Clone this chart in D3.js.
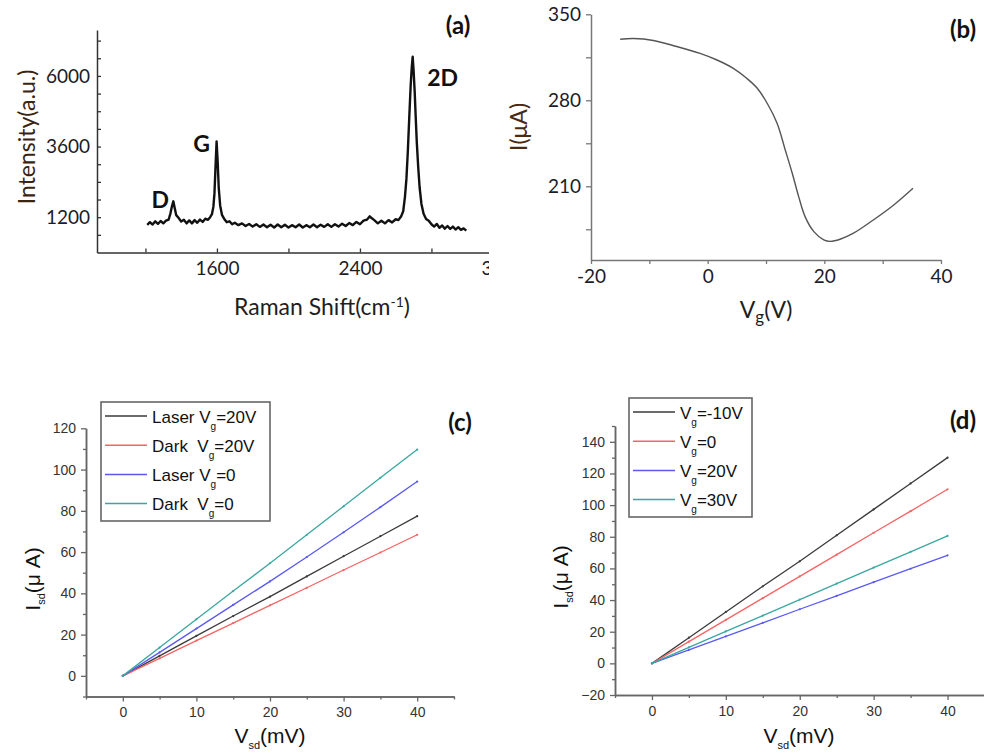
<!DOCTYPE html>
<html>
<head>
<meta charset="utf-8">
<script src="https://cdn.jsdelivr.net/npm/d3@7"></script>
<style>
  body { margin: 0; background: #fff; }
  svg { display: block; }
</style>
</head>
<body>
<div id="chart"></div>
<script>
// (a) Raman spectrum
let ramanShift = [1210,1225,1240,1255,1270,1285,1300,1315,1330,1340,1348,1356,1364,1372,1385,1400,1415,1430,1445,1460,1475,1490,1505,1520,1535,1550,1562,1572,1580,1586,1592,1598,1604,1610,1618,1628,1640,1655,1670,1685,1700,1720,1740,1760,1780,1800,1820,1840,1860,1880,1900,1920,1940,1960,1980,2000,2020,2040,2060,2080,2100,2120,2140,2160,2180,2200,2220,2240,2260,2280,2300,2320,2340,2360,2380,2400,2420,2440,2455,2465,2480,2500,2520,2540,2560,2580,2600,2615,2630,2642,2652,2660,2668,2676,2684,2690,2695,2700,2706,2712,2718,2726,2734,2744,2756,2770,2785,2800,2815,2830,2845,2860,2875,2890,2905,2920,2935,2950,2965,2980,2995];
let ramanIntensity = [940,1030,950,1060,970,1070,990,1080,1120,1330,1560,1740,1500,1270,1180,1050,1110,990,1090,990,1100,1010,1120,1040,1150,1110,1200,1300,1550,2000,2900,3770,3100,2200,1600,1280,1150,1030,1060,960,1010,930,990,900,970,880,960,870,950,860,940,850,950,860,940,850,930,860,950,850,930,860,950,860,940,870,960,870,960,880,980,900,1000,930,1040,960,1080,1120,1230,1170,1100,990,1080,990,1100,1020,1130,1100,1220,1400,1900,2500,3450,4600,5700,6300,6650,6200,5500,4600,3750,2900,2200,1650,1320,1140,1080,960,880,970,840,920,810,900,800,880,780,860,770,820,740];
let ramanXTicks = [1200,1600,2000,2400,2800,3200];
let ramanXLabels = [1600,2400,3200];
let ramanYTicks = [600,1200,1800,2400,3000,3600,4200,4800,5400,6000,6600,7200];
let ramanYLabels = [1200,3600,6000];
let peakNames = ["D","G","2D"];
let peakPos = [1356,1598,2695];

// (b) transfer curve
let gateVoltage = [-15,-12.7,-9.3,-5.3,-1.3,1.6,4.4,6.7,8.5,10.2,11.9,13.3,14.5,15.6,16.7,18.2,19.9,21.0,22.7,25.0,28.4,31.9,35.2];
let gateCurrent = [329.7,330.3,328.7,323.8,318.2,312.8,306,297.9,289.8,277.6,261.3,239.6,220.6,201.6,185.3,173.1,166.4,165.2,166.9,171.8,182.6,194.8,208.4];
let gateXTicks = [-20,-10,0,10,20,30,40];
let gateXLabels = [-20,0,20,40];
let gateYTicks = [175,210,245,280,315,350];
let gateYLabels = [210,280,350];

// (c) and (d) output curves
let vsd = [0,5,10,15,20,25,30,35,40];
let cLaser20 = [0,9.7,19.4,29.0,38.4,48.2,58.0,67.7,77.4];
let cDark20 = [0,8.5,17.1,25.6,34.2,42.7,51.3,59.8,68.4];
let cLaser0 = [0,11.4,22.9,34.4,45.8,57.6,69.6,81.8,94.2];
let cDark0 = [0,13.7,27.4,41.1,54.6,68.4,82.2,96.0,109.7];
let cLegend = [["Laser V","g","=20V"],["Dark  V","g","=20V"],["Laser V","g","=0"],["Dark  V","g","=0"]];
let dVgm10 = [0,16.2,32.5,48.7,64.5,80.9,97.3,113.7,130];
let dVg0 = [0,13.7,27.5,41.2,55.0,68.7,82.5,96.2,110];
let dVg20 = [0,8.5,17.1,25.6,34.2,42.7,51.3,59.8,68.3];
let dVg30 = [0,10.1,20.2,30.2,40.3,50.4,60.5,70.5,80.6];
let dLegend = [["V","g","=-10V"],["V","g","=0"],["V","g","=20V"],["V","g","=30V"]];
let lineColors = ["#3a3a3a","#f46464","#5a5af2","#3aa79f"];
let vsdMajor = [0,10,20,30,40];
let vsdMinor = [-5,5,15,25,35,45];

let calibri = "Lato, 'Open Sans', sans-serif";
let arial = "'Liberation Sans', Arial, sans-serif";

let svg = d3.select("#chart").append("svg")
    .attr("width", 984)
    .attr("height", 756);

svg.append("rect").attr("width", 984).attr("height", 756).attr("fill", "#fff");

function styleAxis(g, color, labelColor, size, font) {
    g.attr("font-family", font);
    g.select(".domain").attr("stroke", color).attr("stroke-width", 1.5);
    g.selectAll(".tick line").attr("stroke", color).attr("stroke-width", 1.3);
    g.selectAll(".tick text").attr("fill", labelColor).style("font-size", size).style("font-family", font);
}

// ---------- panel (a) ----------
let pa = svg.append("g").attr("font-family", calibri);
let xA = d3.scaleLinear().domain([929, 3122]).range([97, 489]);
let yA = d3.scaleLinear().domain([0, 7560]).range([252.5, 30]);

svg.append("clipPath").attr("id", "clipA")
    .append("rect").attr("x", 0).attr("y", 0).attr("width", 489).attr("height", 340);

let xAxisA = pa.append("g")
    .attr("clip-path", "url(#clipA)")
    .append("g")
    .attr("transform", "translate(0,252.5)")
    .call(d3.axisBottom(xA).tickValues(ramanXTicks).tickSizeInner(-4).tickSizeOuter(0).tickPadding(9)
        .tickFormat(d => ramanXLabels.includes(d) ? d : ""));
styleAxis(xAxisA, "#333", "#1c1c28", "19px", calibri);

let yAxisA = pa.append("g")
    .attr("transform", "translate(97,0)")
    .call(d3.axisLeft(yA).tickValues(ramanYTicks).tickSizeInner(-4).tickSizeOuter(0).tickPadding(7)
        .tickFormat(d => ramanYLabels.includes(d) ? d : ""));
styleAxis(yAxisA, "#333", "#1c1c28", "19px", calibri);

let lineA = d3.line().x((d, i) => xA(ramanShift[i])).y(d => yA(d));
pa.append("path")
    .datum(ramanIntensity)
    .attr("d", lineA)
    .attr("fill", "none")
    .attr("stroke", "#111")
    .attr("stroke-width", 2.4)
    .attr("stroke-linejoin", "round");

let peakDx = [-13, -15, 30];
let peakDy = [7, 10, 29];
pa.selectAll(".peak")
    .data(peakNames)
    .enter()
    .append("text")
    .attr("class", "peak")
    .attr("x", (d, i) => xA(peakPos[i]) + peakDx[i])
    .attr("y", (d, i) => yA(ramanIntensity[ramanShift.indexOf(peakPos[i])]) + peakDy[i])
    .attr("text-anchor", "middle")
    .style("font-size", "23px")
    .style("font-weight", "bold")
    .attr("fill", "#111")
    .text(d => d);

pa.append("text")
    .attr("transform", "translate(35,137) rotate(-90)")
    .attr("text-anchor", "middle")
    .style("font-size", "23px")
    .attr("fill", "#3b2410")
    .text("Intensity(a.u.)");

let ramanTitle = pa.append("text")
    .attr("x", 322)
    .attr("y", 315)
    .attr("text-anchor", "middle")
    .style("font-size", "23px")
    .attr("fill", "#1e1e1e");
ramanTitle.append("tspan").text("Raman Shift(cm");
ramanTitle.append("tspan").attr("dy", -8).style("font-size", "14px").text("-1");
ramanTitle.append("tspan").attr("dy", 8).text(")");

pa.append("text")
    .attr("x", 458).attr("y", 34)
    .attr("text-anchor", "middle")
    .style("font-size", "24px")
    .style("font-weight", "bold")
    .attr("fill", "#111")
    .text("(a)");

// ---------- panel (b) ----------
let pb = svg.append("g").attr("font-family", calibri);
let xB = d3.scaleLinear().domain([-20, 40]).range([591, 941]);
let yB = d3.scaleLinear().domain([150, 350]).range([260, 14.3]);

let xAxisB = pb.append("g")
    .attr("transform", "translate(0,260)")
    .call(d3.axisBottom(xB).tickValues(gateXTicks).tickSizeInner(4).tickSizeOuter(0).tickPadding(6)
        .tickFormat(d => gateXLabels.includes(d) ? d : ""));
styleAxis(xAxisB, "#777", "#1c1c28", "19px", calibri);

let yAxisB = pb.append("g")
    .attr("transform", "translate(591,0)")
    .call(d3.axisLeft(yB).tickValues(gateYTicks).tickSizeInner(5).tickSizeOuter(0).tickPadding(5)
        .tickFormat(d => gateYLabels.includes(d) ? d : ""));
styleAxis(yAxisB, "#777", "#1c1c28", "19px", calibri);

let lineB = d3.line().x((d, i) => xB(gateVoltage[i])).y(d => yB(d)).curve(d3.curveCatmullRom);
pb.append("path")
    .datum(gateCurrent)
    .attr("d", lineB)
    .attr("fill", "none")
    .attr("stroke", "#555")
    .attr("stroke-width", 1.4);

pb.append("text")
    .attr("transform", "translate(527,127) rotate(-90)")
    .attr("text-anchor", "middle")
    .style("font-size", "23px")
    .attr("fill", "#4a2a10")
    .text("I(μA)");

let vgTitle = pb.append("text")
    .attr("x", 766).attr("y", 318)
    .attr("text-anchor", "middle")
    .style("font-size", "23px")
    .attr("fill", "#1e1e1e");
vgTitle.append("tspan").text("V");
vgTitle.append("tspan").attr("dy", 5).style("font-size", "17px").text("g");
vgTitle.append("tspan").attr("dy", -5).text("(V)");

pb.append("text")
    .attr("x", 963).attr("y", 38)
    .attr("text-anchor", "middle")
    .style("font-size", "24px")
    .style("font-weight", "bold")
    .attr("fill", "#111")
    .text("(b)");

// ---------- panels (c) and (d) ----------
function ivPanel(opts) {
    let g = svg.append("g").attr("font-family", arial);
    let x = d3.scaleLinear().domain([-5, 45]).range(opts.xRange);
    let y = d3.scaleLinear().domain(opts.yDomain).range(opts.yRange);
    let x0 = opts.xRange[0], yb = opts.yRange[0];

    let xMinor = g.append("g").attr("transform", `translate(0,${yb})`)
        .call(d3.axisBottom(x).tickValues(vsdMinor).tickSizeInner(3).tickSizeOuter(0).tickFormat(""));
    styleAxis(xMinor, "#666", "#333", "14px", arial);
    let xMajor = g.append("g").attr("transform", `translate(0,${yb})`)
        .call(d3.axisBottom(x).tickValues(vsdMajor).tickSizeInner(5).tickSizeOuter(0).tickPadding(6));
    styleAxis(xMajor, "#666", "#333", "14px", arial);

    let yMinor = g.append("g").attr("transform", `translate(${x0},0)`)
        .call(d3.axisLeft(y).tickValues(opts.yMinor).tickSizeInner(3).tickSizeOuter(0).tickFormat(""));
    styleAxis(yMinor, "#666", "#333", "14px", arial);
    let yMajor = g.append("g").attr("transform", `translate(${x0},0)`)
        .call(d3.axisLeft(y).tickValues(opts.yMajor).tickSizeInner(5).tickSizeOuter(0).tickPadding(5));
    styleAxis(yMajor, "#666", "#333", "14px", arial);

    let line = d3.line().x((d, i) => x(vsd[i])).y(d => y(d));
    opts.series.forEach((s, k) => {
        g.append("path")
            .datum(s)
            .attr("d", line)
            .attr("fill", "none")
            .attr("stroke", lineColors[k])
            .attr("stroke-width", 1.3);
        g.selectAll(null)
            .data(s)
            .enter()
            .append("circle")
            .attr("cx", (d, i) => x(vsd[i]))
            .attr("cy", d => y(d))
            .attr("r", 1.1)
            .attr("fill", lineColors[k]);
    });

    // legend
    let lg = g.append("g");
    lg.append("rect")
        .attr("x", opts.legend.x).attr("y", opts.legend.y)
        .attr("width", opts.legend.w).attr("height", opts.legend.h)
        .attr("fill", "#fff").attr("stroke", "#666").attr("stroke-width", 1.6);
    opts.labels.forEach((lab, k) => {
        let ly = opts.legend.y + 14 + k * 29.2;
        lg.append("line")
            .attr("x1", opts.legend.x + 4).attr("x2", opts.legend.x + 46)
            .attr("y1", ly).attr("y2", ly)
            .attr("stroke", lineColors[k]).attr("stroke-width", 1.5);
        let t = lg.append("text")
            .attr("x", opts.legend.x + 51).attr("y", ly + 6.5)
            .style("font-size", "17px")
            .style("font-family", arial)
            .attr("fill", "#111")
            .style("white-space", "pre");
        t.append("tspan").text(lab[0]);
        t.append("tspan").attr("dy", 7).style("font-size", "10px").text(lab[1]);
        t.append("tspan").attr("dy", -7).text(lab[2]);
    });

    let yt = g.append("text")
        .attr("transform", `translate(${opts.yTitle[0]},${opts.yTitle[1]}) rotate(-90)`)
        .attr("text-anchor", "middle")
        .style("font-size", "21px")
        .style("font-family", arial)
        .attr("fill", "#111");
    yt.append("tspan").text("I");
    yt.append("tspan").attr("dy", 5).style("font-size", "11px").text("sd");
    yt.append("tspan").attr("dy", -5).text("(μ A)");

    let xt = g.append("text")
        .attr("x", opts.xTitle[0]).attr("y", opts.xTitle[1])
        .attr("text-anchor", "middle")
        .style("font-size", "21px")
        .style("font-family", arial)
        .attr("fill", "#111");
    xt.append("tspan").text("V");
    xt.append("tspan").attr("dy", 6).style("font-size", "11px").text("sd");
    xt.append("tspan").attr("dy", -6).text("(mV)");

    g.append("text")
        .attr("x", opts.tag[0]).attr("y", opts.tag[1])
        .attr("text-anchor", "middle")
        .style("font-size", "24px")
        .style("font-weight", "bold")
        .style("font-family", calibri)
        .attr("fill", "#111")
        .text(opts.tag[2]);
}

ivPanel({
    xRange: [86, 454],
    yDomain: [-10, 120], yRange: [696.5, 428.3],
    yMajor: [0,20,40,60,80,100,120], yMinor: [-10,10,30,50,70,90,110],
    series: [cLaser20, cDark20, cLaser0, cDark0],
    labels: cLegend,
    legend: {x: 101, y: 402, w: 169, h: 119},
    yTitle: [40, 579], xTitle: [270, 743],
    tag: [460, 431, "(c)"]
});

ivPanel({
    xRange: [615, 984.5],
    yDomain: [-20, 150], yRange: [695, 426],
    yMajor: [-20,0,20,40,60,80,100,120,140], yMinor: [-10,10,30,50,70,90,110,130,150],
    series: [dVgm10, dVg0, dVg20, dVg30],
    labels: dLegend,
    legend: {x: 629, y: 398, w: 123, h: 119},
    yTitle: [568, 577], xTitle: [799, 743],
    tag: [963, 429, "(d)"]
});
</script>
</body>
</html>
